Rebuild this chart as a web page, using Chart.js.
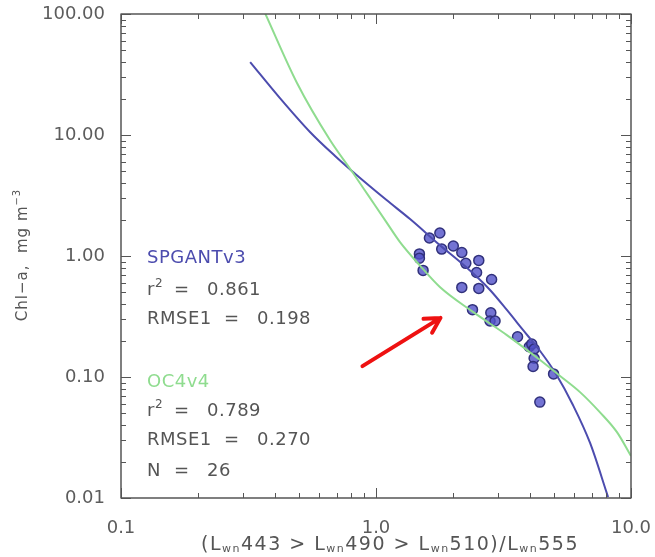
<!DOCTYPE html>
<html>
<head>
<meta charset="utf-8">
<script src="https://cdn.jsdelivr.net/npm/chart.js@4.4.1/dist/chart.umd.min.js"></script>
<style>
  html, body { margin: 0; padding: 0; background: #fff; }
  canvas { display: block; }
</style>
</head>
<body>
<canvas id="chart" width="655" height="557"></canvas>
<script>
// axis ticks
const xTickValues = [0.1, 1, 10];
const xTickLabels = ['0.1', '1.0', '10.0'];
const yTickValues = [0.01, 0.1, 1, 10, 100];
const yTickLabels = ['0.01', '0.10', '1.00', '10.00', '100.00'];

// in situ matchups (band ratio vs chl-a)
const obsRatio = [1.48, 1.48, 1.53, 1.62, 1.78, 1.81, 2.01, 2.17, 2.25, 2.53, 2.48, 2.84, 2.17,
  2.53, 2.39, 2.82, 2.80, 2.93, 3.59, 3.99, 4.08, 4.17, 4.17, 4.13, 4.97, 4.39];
const obsChl = [1.04, 0.96, 0.76, 1.41, 1.55, 1.14, 1.21, 1.07, 0.87, 0.92, 0.73, 0.64, 0.55,
  0.54, 0.36, 0.34, 0.29, 0.29, 0.215, 0.178, 0.187, 0.170, 0.143, 0.122, 0.106, 0.062];

// SPGANTv3 curve
const spgRatio = [0.321, 0.420, 0.551, 0.691, 0.813, 1.10, 1.36, 1.78, 2.23, 2.80, 3.26, 3.77, 4.40, 5.08, 5.92, 6.91, 8.13];
const spgChl = [40.1, 20.2, 10.6, 6.71, 4.95, 2.90, 2.02, 1.23, 0.827, 0.524, 0.358, 0.245, 0.164, 0.106, 0.0587, 0.0285, 0.0102];

// OC4v4 curve
const oc4Ratio = [0.367, 0.490, 0.660, 0.813, 0.947, 1.085, 1.24, 1.49, 1.78, 2.40, 3.26, 4.40, 5.27, 6.31, 7.56, 8.81, 10.0];
const oc4Chl = [101.9, 26.9, 9.09, 4.85, 3.02, 1.98, 1.31, 0.83, 0.554, 0.345, 0.222, 0.138, 0.102, 0.075, 0.051, 0.035, 0.0222];

// red arrow (tail, head)
const arrowRatio = [0.885, 1.79];
const arrowChl = [0.123, 0.308];

// stats block
const statLabels = ['SPGANTv3', 'r2', 'RMSE1', 'OC4v4', 'r2', 'RMSE1', 'N'];
const statValues = ['', '0.861', '0.198', '', '0.789', '0.270', '26'];

const FONT = '"DejaVu Sans", sans-serif';
const GREY = '#555';
const BLUE = '#4c4cae';
const GREEN = '#8fdc8f';

function pts(xs, ys) {
  return xs.map((v, i) => ({ x: v, y: ys[i] }));
}

const decor = {
  id: 'decor',
  afterDatasetsDraw(chart) {
    const { ctx, chartArea: a, scales: { x, y } } = chart;
    ctx.save();

    // arrow
    const x0 = x.getPixelForValue(arrowRatio[0]), y0 = y.getPixelForValue(arrowChl[0]);
    const x1 = x.getPixelForValue(arrowRatio[1]), y1 = y.getPixelForValue(arrowChl[1]);
    const ang = Math.atan2(y1 - y0, x1 - x0);
    ctx.strokeStyle = '#ee1111';
    ctx.lineWidth = 4;
    ctx.lineCap = 'round';
    ctx.lineJoin = 'round';
    ctx.beginPath();
    ctx.moveTo(x0, y0);
    ctx.lineTo(x1, y1);
    ctx.moveTo(x1 - 17 * Math.cos(ang - 0.5), y1 - 17 * Math.sin(ang - 0.5));
    ctx.lineTo(x1, y1);
    ctx.lineTo(x1 - 17 * Math.cos(ang + 0.5), y1 - 17 * Math.sin(ang + 0.5));
    ctx.stroke();

    // frame + inward ticks on all four sides
    ctx.lineCap = 'butt';
    ctx.strokeStyle = GREY;
    ctx.lineWidth = 1.5;
    ctx.strokeRect(a.left, a.top, a.right - a.left, a.bottom - a.top);
    ctx.lineWidth = 1;
    ctx.beginPath();
    for (let k = -2; k <= 2; k++) {
      for (let m = 1; m <= 9; m++) {
        const v = m * Math.pow(10, k);
        if (v < 0.01 * 0.999 || v > 100 * 1.001) continue;
        const len = m === 1 ? 10 : 5;
        const py = Math.round(y.getPixelForValue(v)) + 0.5;
        ctx.moveTo(a.left, py); ctx.lineTo(a.left + len, py);
        ctx.moveTo(a.right, py); ctx.lineTo(a.right - len, py);
        if (v >= 0.1 * 0.999 && v <= 10 * 1.001) {
          const px = Math.round(x.getPixelForValue(v)) + 0.5;
          ctx.moveTo(px, a.bottom); ctx.lineTo(px, a.bottom - len);
          ctx.moveTo(px, a.top); ctx.lineTo(px, a.top + len);
        }
      }
    }
    ctx.stroke();

    // stats text
    const rows = [258, 290, 319, 382, 411, 440, 471];
    ctx.textBaseline = 'middle';
    ctx.textAlign = 'left';
    if ('letterSpacing' in ctx) ctx.letterSpacing = '0.5px';
    statLabels.forEach((lab, i) => {
      const yy = rows[i];
      ctx.font = '18px ' + FONT;
      if (lab === 'SPGANTv3') { ctx.fillStyle = BLUE; ctx.fillText(lab, 147, yy); return; }
      if (lab === 'OC4v4') { ctx.fillStyle = GREEN; ctx.fillText(lab, 147, yy); return; }
      ctx.fillStyle = GREY;
      let eqX = 174, valX = 207;
      if (lab === 'r2') {
        ctx.fillText('r', 147, yy);
        ctx.font = '12px ' + FONT;
        ctx.fillText('2', 155, yy - 6);
        ctx.font = '18px ' + FONT;
      } else {
        ctx.fillText(lab, 147, yy);
        if (lab === 'RMSE1') { eqX = 224; valX = 257; }
      }
      ctx.fillText('=', eqX, yy);
      ctx.fillText(statValues[i], valX, yy);
    });

    // x title with subscripts
    if ('letterSpacing' in ctx) ctx.letterSpacing = '1.5px';
    const parts = [['(L', 0], ['wn', 1], ['443 > L', 0], ['wn', 1], ['490 > L', 0], ['wn', 1], ['510)/L', 0], ['wn', 1], ['555', 0]];
    let total = 0;
    parts.forEach(([t, s]) => { ctx.font = (s ? '11px ' : '19px ') + FONT; total += ctx.measureText(t).width; });
    let cx = 390 - total / 2;
    ctx.fillStyle = GREY;
    parts.forEach(([t, s]) => {
      ctx.font = (s ? '11px ' : '19px ') + FONT;
      ctx.fillText(t, cx, s ? 549 : 545);
      cx += ctx.measureText(t).width;
    });

    // y title, rotated
    ctx.translate(23, 255);
    ctx.rotate(-Math.PI / 2);
    if ('letterSpacing' in ctx) ctx.letterSpacing = '1px';
    ctx.font = '15px ' + FONT;
    const main = 'Chl\u2212a,  mg m';
    const sup = '\u22123';
    const w1 = ctx.measureText(main).width;
    ctx.font = '10px ' + FONT;
    const w2 = ctx.measureText(sup).width;
    let sx = -(w1 + w2) / 2;
    ctx.font = '15px ' + FONT;
    ctx.fillText(main, sx, 0);
    ctx.font = '10px ' + FONT;
    ctx.fillText(sup, sx + w1, -6);

    ctx.restore();
  }
};

new Chart(document.getElementById('chart').getContext('2d'), {
  type: 'scatter',
  data: {
    datasets: [
      {
        label: 'OC4v4',
        data: pts(oc4Ratio, oc4Chl),
        showLine: true,
        pointRadius: 0,
        borderColor: GREEN,
        borderWidth: 2,
        cubicInterpolationMode: 'monotone',
        fill: false,
      },
      {
        label: 'SPGANTv3',
        data: pts(spgRatio, spgChl),
        showLine: true,
        pointRadius: 0,
        borderColor: BLUE,
        borderWidth: 2,
        cubicInterpolationMode: 'monotone',
        fill: false,
      },
      {
        label: 'in situ',
        data: pts(obsRatio, obsChl),
        showLine: false,
        pointRadius: 5,
        pointBackgroundColor: 'rgba(80,80,200,0.8)',
        pointBorderColor: '#31317c',
        pointBorderWidth: 1.5,
      },
    ],
  },
  options: {
    responsive: false,
    animation: false,
    layout: { padding: { left: 0, right: 24, top: 14, bottom: 0 } },
    plugins: { legend: { display: false }, tooltip: { enabled: false } },
    scales: {
      x: {
        type: 'logarithmic',
        min: 0.1,
        max: 10,
        grid: { display: false },
        border: { display: false },
        afterBuildTicks: (s) => { s.ticks = xTickValues.map(v => ({ value: v })); },
        afterFit: (s) => { s.height = 59; s.paddingLeft = 0; s.paddingRight = 0; },
        ticks: {
          autoSkip: false,
          maxRotation: 0,
          padding: 12,
          color: '#5c5c5c',
          font: { family: FONT, size: 18 },
          callback: (v, i) => xTickLabels[i],
        },
      },
      y: {
        type: 'logarithmic',
        min: 0.01,
        max: 100,
        grid: { display: false },
        border: { display: false },
        afterBuildTicks: (s) => { s.ticks = yTickValues.map(v => ({ value: v })); },
        afterFit: (s) => { s.width = 121; s.paddingTop = 0; s.paddingBottom = 0; },
        ticks: {
          autoSkip: false,
          padding: 8,
          color: '#5c5c5c',
          font: { family: FONT, size: 18 },
          callback: (v, i) => yTickLabels[i],
        },
      },
    },
  },
  plugins: [decor],
});
</script>
</body>
</html>
